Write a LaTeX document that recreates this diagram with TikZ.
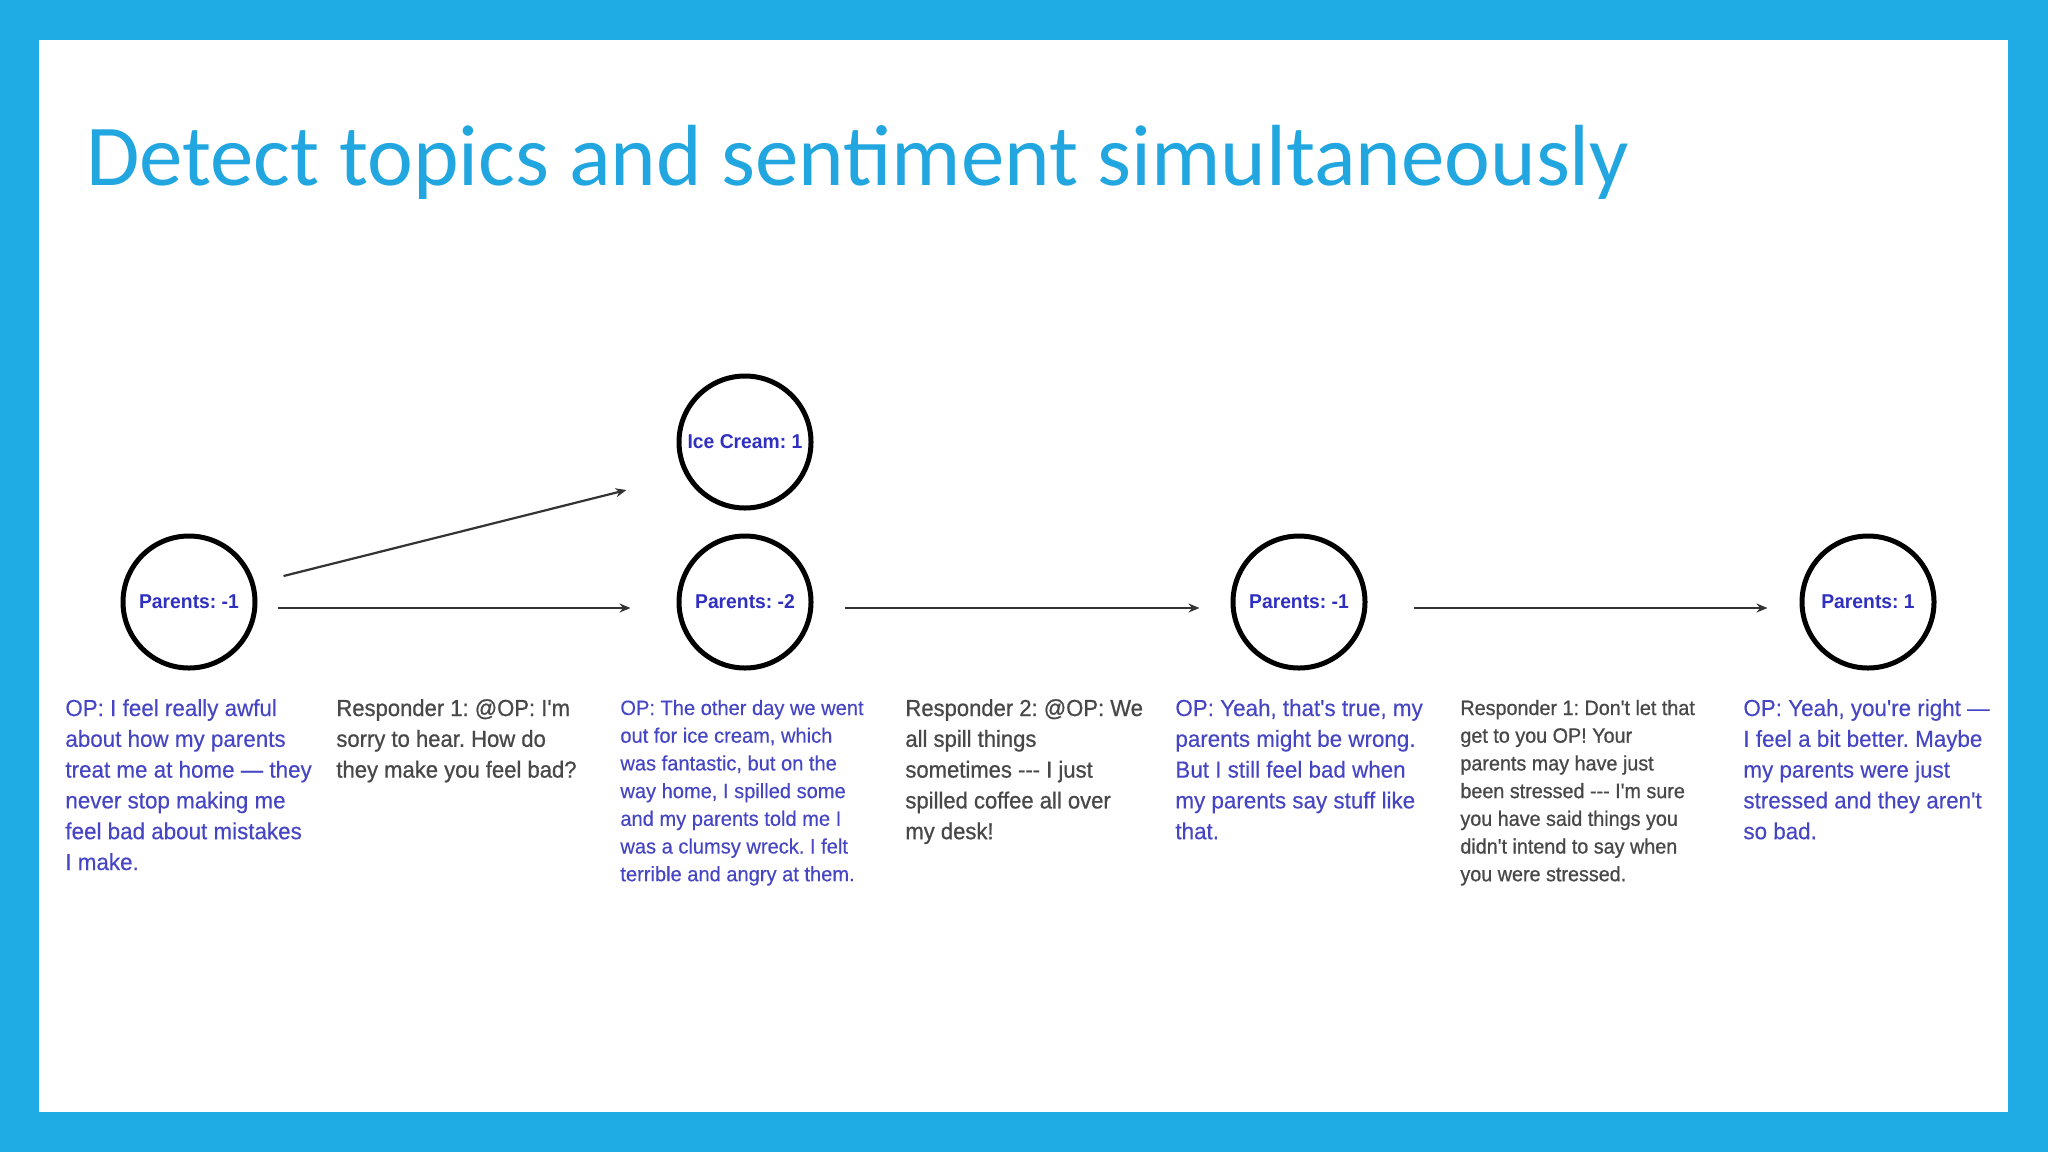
\documentclass[tikz,border=0pt]{standalone}
\usepackage{fontspec}
\setmainfont{Liberation Sans}[FakeStretch=0.965]
\newfontfamily\titlefont{Carlito}
\newfontfamily\bodyfont{Liberation Sans}[FakeStretch=0.965,FakeBold=0.3]
\newfontfamily\respfont{Liberation Sans}[FakeStretch=0.95,FakeBold=0.8]
\usetikzlibrary{arrows.meta}
\definecolor{frameblue}{HTML}{1FABE4}
\definecolor{titleblue}{HTML}{22A6DF}
\definecolor{opblue}{HTML}{4646C4}
\definecolor{lblblue}{HTML}{3030C0}
\definecolor{respgray}{HTML}{484848}
\newcommand\blk[1]{\begin{tabular}[t]{@{}l@{}}#1\end{tabular}}
\frenchspacing
\begin{document}
\begin{tikzpicture}[x=0.5pt,y=-0.5pt,
  topic/.style={circle, draw=black, line width=2.5pt, minimum size=66pt, inner sep=0pt,
    font=\fontsize{10}{12}\selectfont\bfseries, text=lblblue},
  optext/.style={anchor=base west, inner sep=0pt, text=opblue,
    font=\bodyfont\fontsize{11.6}{15.4}\selectfont},
  resptext/.style={anchor=base west, inner sep=0pt, text=respgray,
    font=\respfont\fontsize{11.6}{15.4}\selectfont},
  smalltext/.style={font=\bodyfont\fontsize{10.4}{13.85}\selectfont},
  smallresp/.style={font=\respfont\fontsize{10.4}{13.85}\selectfont},
  arr/.style={-{Stealth[length=5.5pt,width=4.5pt]}, line width=1.1pt, draw=black!80}]
\useasboundingbox (0,0) rectangle (2048,1152);
\fill[frameblue] (0,0) rectangle (2048,1152);
\fill[white] (39,40) rectangle (2008,1112);
\node[anchor=base west, inner sep=0pt, text=titleblue, font=\titlefont\fontsize{43.4}{50}\selectfont]
  (title) at (86,185) {Detect topics and sentiment simultaneously};
% topic circles
\node[topic] (p1) at (189,602) {Parents: -1};
\node[topic] (ice) at (745,442) {Ice Cream: 1};
\node[topic] (p2) at (745,602) {Parents: -2};
\node[topic] (p3) at (1299,602) {Parents: -1};
\node[topic] (p4) at (1868,602) {Parents: 1};
% connectors
\draw[arr] ([xshift=13pt,yshift=13pt]p1.east) -- ([xshift=-25pt,yshift=-24pt]ice.west);
\draw[arr] ([xshift=10pt,yshift=-3pt]p1.east) -- ([xshift=-23pt,yshift=-3pt]p2.west);
\draw[arr] ([xshift=15.7pt,yshift=-3pt]p2.east) -- ([xshift=-15.5pt,yshift=-3pt]p3.west);
\draw[arr] ([xshift=23pt,yshift=-3pt]p3.east) -- ([xshift=-16pt,yshift=-3pt]p4.west);
% text blocks
\node[optext] (t1) at (65,716) {\blk{OP: I feel really awful\\about how my parents\\treat me at home — they\\never stop making me\\feel bad about mistakes\\I make.}};
\node[resptext] (t2) at (336,716) {\blk{Responder 1: @OP: I'm\\sorry to hear. How do\\they make you feel bad?}};
\node[optext, smalltext] (t3) at (620,715) {\blk{OP: The other day we went\\out for ice cream, which\\was fantastic, but on the\\way home, I spilled some\\and my parents told me I\\was a clumsy wreck. I felt\\terrible and angry at them.}};
\node[resptext] (t4) at (905,716) {\blk{Responder 2: @OP: We\\all spill things\\sometimes -{}-{}- I just\\spilled coffee all over\\my desk!}};
\node[optext] (t5) at (1175,716) {\blk{OP: Yeah, that's true, my\\parents might be wrong.\\But I still feel bad when\\my parents say stuff like\\that.}};
\node[resptext, smallresp] (t6) at (1460,715) {\blk{Responder 1: Don't let that\\get to you OP! Your\\parents may have just\\been stressed -{}-{}- I'm sure\\you have said things you\\didn't intend to say when\\you were stressed.}};
\node[optext] (t7) at (1743,716) {\blk{OP: Yeah, you're right —\\I feel a bit better. Maybe\\my parents were just\\stressed and they aren't\\so bad.}};
\end{tikzpicture}
\end{document}
